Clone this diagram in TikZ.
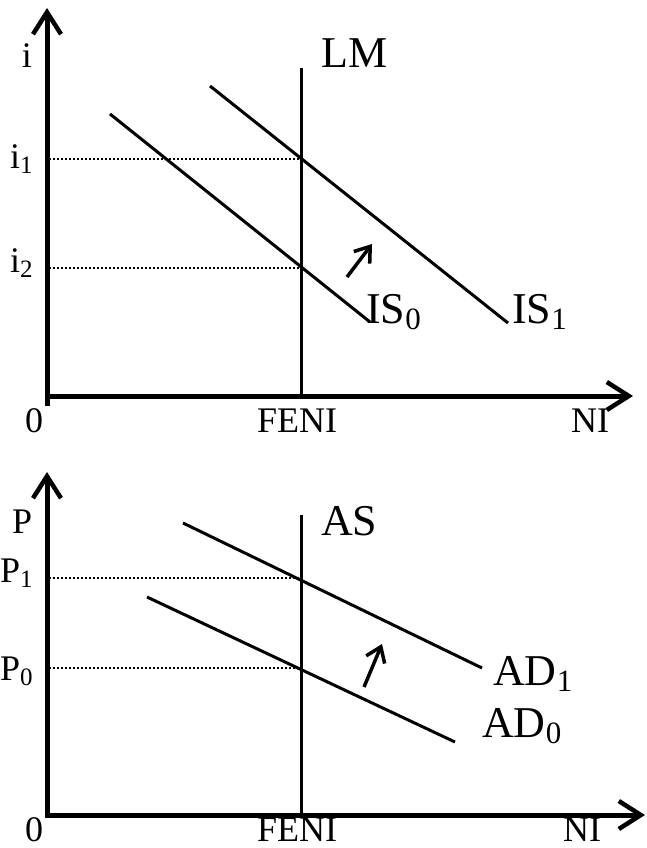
\documentclass[tikz,border=0pt]{standalone}
\usepackage{fontspec}
\setmainfont{Liberation Serif}
\usetikzlibrary{arrows.meta}
\newcommand{\subtxt}[1]{\raisebox{-6pt}{\fontsize{31}{31}\selectfont #1}}
\newcommand{\subax}[1]{\raisebox{-5pt}{\fontsize{25}{25}\selectfont #1}}
\tikzset{
  axisline/.style={line width=5pt, -{Straight Barb[length=22pt,width=28pt,line width=4.5pt]}},
  curve/.style={line width=3pt},
  vline/.style={line width=3pt},
  guide/.style={line width=2.8pt, dash pattern=on 2.2pt off 1.8pt},
  shiftarrow/.style={line width=3.5pt, -{Straight Barb[length=14pt,width=20pt,line width=3.5pt]}},
  biglabel/.style={inner sep=0pt, anchor=base west, font=\fontsize{44}{50}\selectfont},
  axlabel/.style={inner sep=0pt, anchor=base west, font=\fontsize{36}{42}\selectfont},
}
\begin{document}
\begin{tikzpicture}[x=1pt,y=-1pt]
\useasboundingbox (0,0) rectangle (647,848);
\fill[white] (0,0) rectangle (647,848);

% ---------- top panel: IS-LM ----------
\coordinate (oA) at (47,396);
\coordinate (oAbelow) at (47,406);
\coordinate (yA) at (47,8);
\coordinate (xA) at (633,396);
\coordinate (xAstart) at (45,396);
\draw[axisline] (oAbelow) -- (yA);
\draw[axisline] (xAstart) -- (xA);

\coordinate (lmtop) at (301,68);
\coordinate (lmbot) at (301,396);
\draw[vline] (lmtop) -- (lmbot);

\coordinate (i1a) at (49,159);
\coordinate (i1b) at (301,159);
\coordinate (i2a) at (49,268);
\coordinate (i2b) at (301,268);
\draw[guide] (i1a) -- (i1b);
\draw[guide] (i2a) -- (i2b);

\coordinate (is0a) at (110,114);
\coordinate (is0b) at (370,322);
\coordinate (is1a) at (210,86);
\coordinate (is1b) at (508,323);
\draw[curve] (is0a) -- (is0b);
\draw[curve] (is1a) -- (is1b);

\coordinate (sh1a) at (347,277);
\coordinate (sh1b) at (372,244);
\draw[shiftarrow] (sh1a) -- (sh1b);

\node[biglabel] (lmlab) at (321,68) {LM};
\node[biglabel] (is0lab) at (366,323) {IS\subtxt{0}};
\node[biglabel] (is1lab) at (512,323) {IS\subtxt{1}};
\node[axlabel, anchor=base] (ilab) at (27,68) {i};
\node[axlabel] (i1lab) at (10,168) {i\subax{1}};
\node[axlabel] (i2lab) at (10,272) {i\subax{2}};
\node[axlabel] (zeroA) at (25,432) {0};
\node[axlabel, anchor=base] (feniA) at (297,432) {FENI};
\node[axlabel] (niA) at (571,432) {NI};

% ---------- bottom panel: AS-AD ----------
\coordinate (oB) at (47,815);
\coordinate (oBbelow) at (47,817);
\coordinate (yB) at (47,472);
\coordinate (xB) at (645,815);
\coordinate (xBstart) at (45,815);
\draw[axisline] (oBbelow) -- (yB);
\draw[axisline] (xBstart) -- (xB);

\coordinate (astop) at (301,515);
\coordinate (asbot) at (301,815);
\draw[vline] (astop) -- (asbot);

\coordinate (p1a) at (49,578);
\coordinate (p1b) at (301,578);
\coordinate (p0a) at (49,668);
\coordinate (p0b) at (301,668);
\draw[guide] (p1a) -- (p1b);
\draw[guide] (p0a) -- (p0b);

\coordinate (ad1a) at (183,523);
\coordinate (ad1b) at (482,668);
\coordinate (ad0a) at (147,597);
\coordinate (ad0b) at (455,742);
\draw[curve] (ad1a) -- (ad1b);
\draw[curve] (ad0a) -- (ad0b);

\coordinate (sh2a) at (364,687);
\coordinate (sh2b) at (382,644);
\draw[shiftarrow] (sh2a) -- (sh2b);

\node[biglabel] (aslab) at (321,535) {AS};
\node[biglabel] (ad1lab) at (493,685) {AD\subtxt{1}};
\node[biglabel] (ad0lab) at (482,737) {AD\subtxt{0}};
\node[axlabel] (plab) at (12,533) {P};
\node[axlabel] (p1lab) at (0,582) {P\subax{1}};
\node[axlabel] (p0lab) at (0,680) {P\subax{0}};
\node[axlabel] (zeroB) at (25,841) {0};
\node[axlabel, anchor=base] (feniB) at (297,841) {FENI};
\node[axlabel] (niB) at (563,841) {NI};
\end{tikzpicture}
\end{document}
